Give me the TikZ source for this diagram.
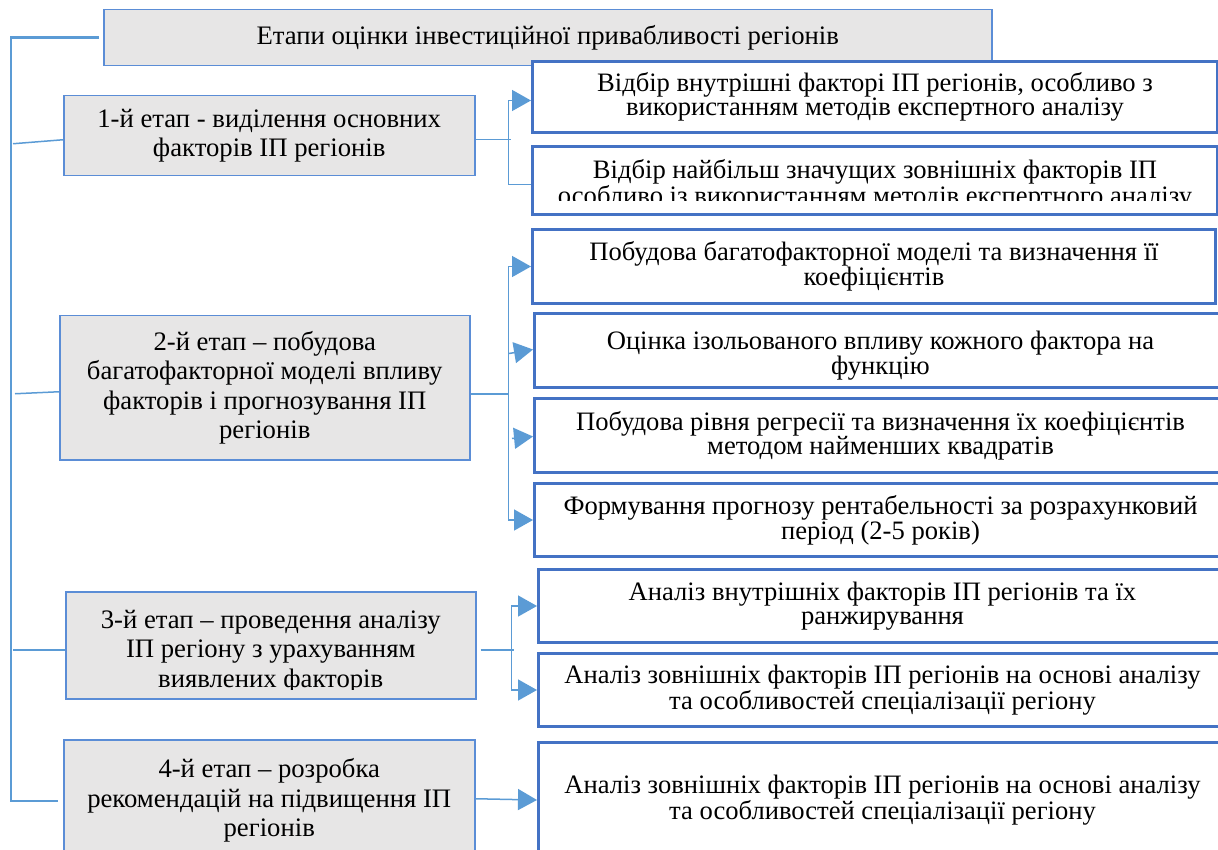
\documentclass[tikz,border=0pt]{standalone}
\usepackage{fontspec}
\setmainfont{Liberation Serif}
\usetikzlibrary{arrows.meta}
\definecolor{linkblue}{HTML}{5B9BD5}
\definecolor{boxblue}{HTML}{4472C4}
\definecolor{stageblue}{HTML}{5B8DD6}
\definecolor{stagegray}{HTML}{E7E6E6}
\tikzset{
	stagetext/.style={align=center,font=\fontsize{26.7}{29.5}\selectfont,inner sep=0pt},
	tasktext/.style={align=center,font=\fontsize{26.6}{24}\selectfont,inner sep=0pt},
	stage/.style={stagetext,draw=stageblue,line width=1.5pt,fill=stagegray,anchor=north west},
	task/.style={tasktext,draw=boxblue,line width=3pt,fill=white,anchor=north west},
	link/.style={draw=linkblue,line width=1.5pt},
	trunk/.style={draw=linkblue,line width=2.5pt},
	arr/.style={link,-{Triangle[width=21pt,length=19pt]}}
}
\begin{document}
\begin{tikzpicture}[x=1pt,y=-1pt]
	\useasboundingbox (0,0) rectangle (1218,850);
	\node [stage,minimum width=888pt,minimum height=56pt] (title) at (103,9) {Етапи оцінки інвестиційної привабливості регіонів};
	\node [stage,minimum width=411pt,minimum height=80pt] (s1) at (63,95) {1-й етап - виділення основних\\факторів ІП регіонів};
	\node [stage,minimum width=410pt,minimum height=144pt] (s2) at (59,315) {2-й етап – побудова\\багатофакторної моделі впливу\\факторів і прогнозування ІП\\регіонів};
	\node [stage,minimum width=410pt,minimum height=107pt] (s3) at (65,591) {};
	\begin{scope}
		\clip (66,592) rectangle (474,689);
		\node [stagetext] (s3text) at ([yshift=-6pt]s3.center) {3-й етап – проведення аналізу\\ІП регіону з урахуванням\\виявлених факторів};
	\end{scope}
	\node [stage,minimum width=411pt,minimum height=122pt] (s4) at (63,739) {4-й етап – розробка\\рекомендацій на підвищення ІП\\регіонів};
	\node [task,minimum width=685pt,minimum height=71pt] (t1a) at (531,60) {Відбір внутрішні факторі ІП регіонів, особливо з\\використанням методів експертного аналізу};
	\node [task,minimum width=685pt,minimum height=68pt] (t1b) at (531,145) {};
	\begin{scope}
		\clip (533,147) rectangle (1214,201);
		\node [tasktext] (t1btext) at ([yshift=-4pt]t1b.center) {Відбір найбільш значущих зовнішніх факторів ІП\\особливо із використанням методів експертного аналізу};
	\end{scope}
	\node [task,minimum width=683pt,minimum height=74pt] (t2a) at (531,228) {Побудова багатофакторної моделі та визначення її\\коефіцієнтів};
	\node [task,minimum width=692pt,minimum height=74pt,text height=54pt] (t2b) at (533,312) {Оцінка ізольованого впливу кожного фактора на\\функцію};
	\node [task,minimum width=692pt,minimum height=74pt] (t2c) at (533,397) {Побудова рівня регресії та визначення їх коефіцієнтів\\методом найменших квадратів};
	\node [task,minimum width=692pt,minimum height=73pt] (t2d) at (533,482) {Формування прогнозу рентабельності за розрахунковий\\період (2-5 років)};
	\node [task,minimum width=688pt,minimum height=73pt] (t3a) at (537,568) {Аналіз внутрішніх факторів ІП регіонів та їх\\ранжирування};
	\node [task,minimum width=688pt,minimum height=73pt] (t3b) at (537,652) {Аналіз зовнішніх факторів ІП регіонів на основі аналізу\\та особливостей спеціалізації регіону};
	\node [task,minimum width=688pt,minimum height=115pt] (t4a) at (537,741) {Аналіз зовнішніх факторів ІП регіонів на основі аналізу\\та особливостей спеціалізації регіону};
	\draw [trunk] ([xshift=-4pt]title.west) -| ([xshift=-52pt]s4.west) -- ([xshift=-5pt]s4.west);
	\draw [link] ([xshift=-50pt,yshift=-8pt]s1.west) -- ([yshift=-4pt]s1.west);
	\draw [link] ([xshift=-44pt,yshift=-6pt]s2.west) -- ([yshift=-4pt]s2.west);
	\draw [link] ([xshift=-52pt,yshift=-4.5pt]s3.west) -- ([yshift=-4.5pt]s3.west);
	\coordinate (j1) at ([xshift=33pt,yshift=-4pt]s1.east);
	\draw [link] ([yshift=-4pt]s1.east) -- ([xshift=2pt]j1);
	\draw [arr] (j1) |- ([yshift=-3.5pt]t1a.west);
	\draw [link] (j1) |- ([yshift=-4pt]t1b.west);
	\coordinate (j2) at ([xshift=38pt,yshift=-6pt]s2.east);
	\draw [link] ([yshift=-6pt]s2.east) -- (j2);
	\draw [arr] (j2) |- (t2a.west);
	\draw [arr] (j2) |- (t2d.west);
	\draw [arr] ([xshift=-24pt,yshift=-3pt]t2b.west) -- ([yshift=1pt]t2b.west);
	\draw [arr] ([xshift=-21pt,yshift=-3pt]t2c.west) -- ([yshift=-1pt]t2c.west);
	\coordinate (j3) at ([xshift=35pt,yshift=-4.5pt]s3.east);
	\draw [link] ([xshift=4pt,yshift=-4.5pt]s3.east) -- ([xshift=2pt]j3);
	\draw [arr] (j3) |- (t3a.west);
	\draw [arr] (j3) |- (t3b.west);
	\draw [arr] ([yshift=2pt]s4.east) -- (t4a.west);
\end{tikzpicture}
\end{document}
